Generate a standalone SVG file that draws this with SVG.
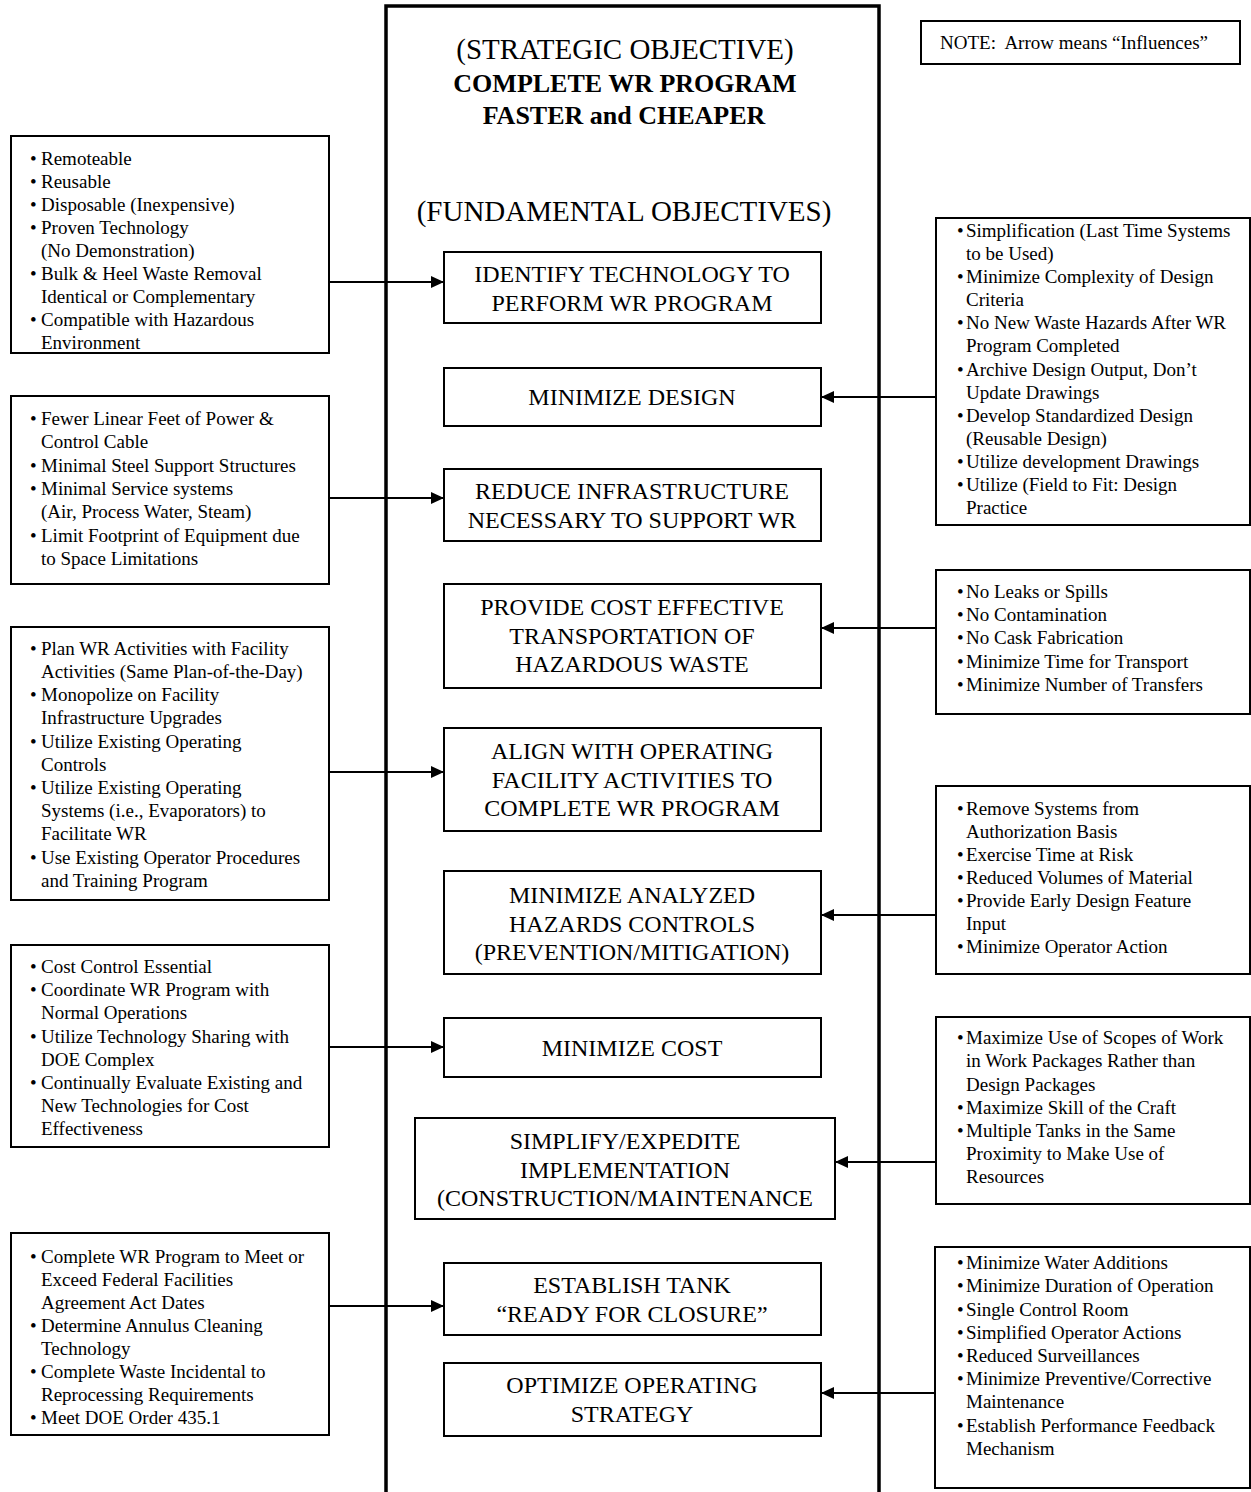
<svg xmlns="http://www.w3.org/2000/svg" width="1251" height="1492" viewBox="0 0 1251 1492">
<style>
.bx{fill:#fff;stroke:#000;stroke-width:2}
.big{fill:none;stroke:#000;stroke-width:3.5}
.t{font-family:"Liberation Serif","Times New Roman",serif;fill:#000}
.s{font-size:19px}
.c{font-size:24px;text-anchor:middle}
.h{font-size:29px;text-anchor:middle}
.hb{font-size:26px;font-weight:bold;text-anchor:middle}
.cn{stroke:#000;stroke-width:2;fill:none;marker-end:url(#ah)}
</style>
<defs>
<marker id="ah" markerUnits="userSpaceOnUse" markerWidth="14" markerHeight="12" refX="13" refY="6" orient="auto">
<path d="M0,0 L13,6 L0,12 Z" fill="#000"/>
</marker>
</defs>
<rect class="big" x="386" y="6" width="493" height="1500"/>
<g id="title">
<text class="t h" x="625" y="59">(STRATEGIC OBJECTIVE)</text>
<text class="t hb" x="625" y="92">COMPLETE WR PROGRAM</text>
<text class="t hb" x="624" y="124">FASTER and CHEAPER</text>
<text class="t h" x="624" y="221">(FUNDAMENTAL OBJECTIVES)</text>
</g>
<g id="note">
<rect class="bx" x="921" y="21" width="319" height="43"/>
<text class="t s" x="940" y="49">NOTE:&#160; Arrow means “Influences”</text>
</g>
<g id="connectors">
<line class="cn" x1="329" y1="282" x2="444" y2="282"/>
<line class="cn" x1="329" y1="498" x2="444" y2="498"/>
<line class="cn" x1="329" y1="772" x2="444" y2="772"/>
<line class="cn" x1="329" y1="1047" x2="444" y2="1047"/>
<line class="cn" x1="329" y1="1306" x2="444" y2="1306"/>
<line class="cn" x1="936" y1="397" x2="821" y2="397"/>
<line class="cn" x1="936" y1="628" x2="821" y2="628"/>
<line class="cn" x1="936" y1="915" x2="821" y2="915"/>
<line class="cn" x1="936" y1="1162" x2="835" y2="1162"/>
<line class="cn" x1="936" y1="1393" x2="821" y2="1393"/>
</g>
<g id="obj1">
<rect class="bx" x="444" y="252" width="377" height="71"/>
<text class="t c" x="632" y="282">IDENTIFY TECHNOLOGY TO</text>
<text class="t c" x="632" y="311">PERFORM WR PROGRAM</text>
</g>
<g id="obj2">
<rect class="bx" x="444" y="368" width="377" height="58"/>
<text class="t c" x="632" y="405">MINIMIZE DESIGN</text>
</g>
<g id="obj3">
<rect class="bx" x="444" y="469" width="377" height="72"/>
<text class="t c" x="632" y="499">REDUCE INFRASTRUCTURE</text>
<text class="t c" x="632" y="528">NECESSARY TO SUPPORT WR</text>
</g>
<g id="obj4">
<rect class="bx" x="444" y="584" width="377" height="104"/>
<text class="t c" x="632" y="615">PROVIDE COST EFFECTIVE</text>
<text class="t c" x="632" y="644">TRANSPORTATION OF</text>
<text class="t c" x="632" y="672">HAZARDOUS WASTE</text>
</g>
<g id="obj5">
<rect class="bx" x="444" y="728" width="377" height="103"/>
<text class="t c" x="632" y="759">ALIGN WITH OPERATING</text>
<text class="t c" x="632" y="788">FACILITY ACTIVITIES TO</text>
<text class="t c" x="632" y="816">COMPLETE WR PROGRAM</text>
</g>
<g id="obj6">
<rect class="bx" x="444" y="871" width="377" height="103"/>
<text class="t c" x="632" y="903">MINIMIZE ANALYZED</text>
<text class="t c" x="632" y="932">HAZARDS CONTROLS</text>
<text class="t c" x="632" y="960">(PREVENTION/MITIGATION)</text>
</g>
<g id="obj7">
<rect class="bx" x="444" y="1018" width="377" height="59"/>
<text class="t c" x="632" y="1056">MINIMIZE COST</text>
</g>
<g id="obj8">
<rect class="bx" x="415" y="1118" width="420" height="101"/>
<text class="t c" x="625" y="1149">SIMPLIFY/EXPEDITE</text>
<text class="t c" x="625" y="1178">IMPLEMENTATION</text>
<text class="t c" x="625" y="1206">(CONSTRUCTION/MAINTENANCE</text>
</g>
<g id="obj9">
<rect class="bx" x="444" y="1263" width="377" height="72"/>
<text class="t c" x="632" y="1293">ESTABLISH TANK</text>
<text class="t c" x="632" y="1322">“READY FOR CLOSURE”</text>
</g>
<g id="obj10">
<rect class="bx" x="444" y="1363" width="377" height="73"/>
<text class="t c" x="632" y="1393">OPTIMIZE OPERATING</text>
<text class="t c" x="632" y="1422">STRATEGY</text>
</g>
<g id="left1">
<rect class="bx" x="11" y="136" width="318" height="217"/>
<text class="t s">
<tspan x="30" y="165">•</tspan><tspan x="41" y="165">Remoteable</tspan>
<tspan x="30" y="188">•</tspan><tspan x="41" y="188">Reusable</tspan>
<tspan x="30" y="211">•</tspan><tspan x="41" y="211">Disposable (Inexpensive)</tspan>
<tspan x="30" y="234">•</tspan><tspan x="41" y="234">Proven Technology</tspan>
<tspan x="41" y="257">(No Demonstration)</tspan>
<tspan x="30" y="280">•</tspan><tspan x="41" y="280">Bulk &amp; Heel Waste Removal</tspan>
<tspan x="41" y="303">Identical or Complementary</tspan>
<tspan x="30" y="326">•</tspan><tspan x="41" y="326">Compatible with Hazardous</tspan>
<tspan x="41" y="349">Environment</tspan>
</text>
</g>
<g id="left2">
<rect class="bx" x="11" y="396" width="318" height="188"/>
<text class="t s">
<tspan x="30" y="425">•</tspan><tspan x="41" y="425">Fewer Linear Feet of Power &amp;</tspan>
<tspan x="41" y="448">Control Cable</tspan>
<tspan x="30" y="472">•</tspan><tspan x="41" y="472">Minimal Steel Support Structures</tspan>
<tspan x="30" y="495">•</tspan><tspan x="41" y="495">Minimal Service systems</tspan>
<tspan x="41" y="518">(Air, Process Water, Steam)</tspan>
<tspan x="30" y="542">•</tspan><tspan x="41" y="542">Limit Footprint of Equipment due</tspan>
<tspan x="41" y="565">to Space Limitations</tspan>
</text>
</g>
<g id="left3">
<rect class="bx" x="11" y="627" width="318" height="273"/>
<text class="t s">
<tspan x="30" y="655">•</tspan><tspan x="41" y="655">Plan WR Activities with Facility</tspan>
<tspan x="41" y="678">Activities (Same Plan-of-the-Day)</tspan>
<tspan x="30" y="701">•</tspan><tspan x="41" y="701">Monopolize on Facility</tspan>
<tspan x="41" y="724">Infrastructure Upgrades</tspan>
<tspan x="30" y="748">•</tspan><tspan x="41" y="748">Utilize Existing Operating</tspan>
<tspan x="41" y="771">Controls</tspan>
<tspan x="30" y="794">•</tspan><tspan x="41" y="794">Utilize Existing Operating</tspan>
<tspan x="41" y="817">Systems (i.e., Evaporators) to</tspan>
<tspan x="41" y="840">Facilitate WR</tspan>
<tspan x="30" y="864">•</tspan><tspan x="41" y="864">Use Existing Operator Procedures</tspan>
<tspan x="41" y="887">and Training Program</tspan>
</text>
</g>
<g id="left4">
<rect class="bx" x="11" y="945" width="318" height="202"/>
<text class="t s">
<tspan x="30" y="973">•</tspan><tspan x="41" y="973">Cost Control Essential</tspan>
<tspan x="30" y="996">•</tspan><tspan x="41" y="996">Coordinate WR Program with</tspan>
<tspan x="41" y="1019">Normal Operations</tspan>
<tspan x="30" y="1043">•</tspan><tspan x="41" y="1043">Utilize Technology Sharing with</tspan>
<tspan x="41" y="1066">DOE Complex</tspan>
<tspan x="30" y="1089">•</tspan><tspan x="41" y="1089">Continually Evaluate Existing and</tspan>
<tspan x="41" y="1112">New Technologies for Cost</tspan>
<tspan x="41" y="1135">Effectiveness</tspan>
</text>
</g>
<g id="left5">
<rect class="bx" x="11" y="1233" width="318" height="202"/>
<text class="t s">
<tspan x="30" y="1263">•</tspan><tspan x="41" y="1263">Complete WR Program to Meet or</tspan>
<tspan x="41" y="1286">Exceed Federal Facilities</tspan>
<tspan x="41" y="1309">Agreement Act Dates</tspan>
<tspan x="30" y="1332">•</tspan><tspan x="41" y="1332">Determine Annulus Cleaning</tspan>
<tspan x="41" y="1355">Technology</tspan>
<tspan x="30" y="1378">•</tspan><tspan x="41" y="1378">Complete Waste Incidental to</tspan>
<tspan x="41" y="1401">Reprocessing Requirements</tspan>
<tspan x="30" y="1424">•</tspan><tspan x="41" y="1424">Meet DOE Order 435.1</tspan>
</text>
</g>
<g id="right1">
<rect class="bx" x="936" y="218" width="314" height="307"/>
<text class="t s">
<tspan x="957" y="237">•</tspan><tspan x="966" y="237">Simplification (Last Time Systems</tspan>
<tspan x="966" y="260">to be Used)</tspan>
<tspan x="957" y="283">•</tspan><tspan x="966" y="283">Minimize Complexity of Design</tspan>
<tspan x="966" y="306">Criteria</tspan>
<tspan x="957" y="329">•</tspan><tspan x="966" y="329">No New Waste Hazards After WR</tspan>
<tspan x="966" y="352">Program Completed</tspan>
<tspan x="957" y="376">•</tspan><tspan x="966" y="376">Archive Design Output, Don’t</tspan>
<tspan x="966" y="399">Update Drawings</tspan>
<tspan x="957" y="422">•</tspan><tspan x="966" y="422">Develop Standardized Design</tspan>
<tspan x="966" y="445">(Reusable Design)</tspan>
<tspan x="957" y="468">•</tspan><tspan x="966" y="468">Utilize development Drawings</tspan>
<tspan x="957" y="491">•</tspan><tspan x="966" y="491">Utilize (Field to Fit: Design</tspan>
<tspan x="966" y="514">Practice</tspan>
</text>
</g>
<g id="right2">
<rect class="bx" x="936" y="570" width="314" height="144"/>
<text class="t s">
<tspan x="957" y="598">•</tspan><tspan x="966" y="598">No Leaks or Spills</tspan>
<tspan x="957" y="621">•</tspan><tspan x="966" y="621">No Contamination</tspan>
<tspan x="957" y="644">•</tspan><tspan x="966" y="644">No Cask Fabrication</tspan>
<tspan x="957" y="668">•</tspan><tspan x="966" y="668">Minimize Time for Transport</tspan>
<tspan x="957" y="691">•</tspan><tspan x="966" y="691">Minimize Number of Transfers</tspan>
</text>
</g>
<g id="right3">
<rect class="bx" x="936" y="786" width="314" height="188"/>
<text class="t s">
<tspan x="957" y="815">•</tspan><tspan x="966" y="815">Remove Systems from</tspan>
<tspan x="966" y="838">Authorization Basis</tspan>
<tspan x="957" y="861">•</tspan><tspan x="966" y="861">Exercise Time at Risk</tspan>
<tspan x="957" y="884">•</tspan><tspan x="966" y="884">Reduced Volumes of Material</tspan>
<tspan x="957" y="907">•</tspan><tspan x="966" y="907">Provide Early Design Feature</tspan>
<tspan x="966" y="930">Input</tspan>
<tspan x="957" y="953">•</tspan><tspan x="966" y="953">Minimize Operator Action</tspan>
</text>
</g>
<g id="right4">
<rect class="bx" x="936" y="1017" width="314" height="187"/>
<text class="t s">
<tspan x="957" y="1044">•</tspan><tspan x="966" y="1044">Maximize Use of Scopes of Work</tspan>
<tspan x="966" y="1067">in Work Packages Rather than</tspan>
<tspan x="966" y="1091">Design Packages</tspan>
<tspan x="957" y="1114">•</tspan><tspan x="966" y="1114">Maximize Skill of the Craft</tspan>
<tspan x="957" y="1137">•</tspan><tspan x="966" y="1137">Multiple Tanks in the Same</tspan>
<tspan x="966" y="1160">Proximity to Make Use of</tspan>
<tspan x="966" y="1183">Resources</tspan>
</text>
</g>
<g id="right5">
<rect class="bx" x="935" y="1247" width="315" height="241"/>
<text class="t s">
<tspan x="957" y="1269">•</tspan><tspan x="966" y="1269">Minimize Water Additions</tspan>
<tspan x="957" y="1292">•</tspan><tspan x="966" y="1292">Minimize Duration of Operation</tspan>
<tspan x="957" y="1316">•</tspan><tspan x="966" y="1316">Single Control Room</tspan>
<tspan x="957" y="1339">•</tspan><tspan x="966" y="1339">Simplified Operator Actions</tspan>
<tspan x="957" y="1362">•</tspan><tspan x="966" y="1362">Reduced Surveillances</tspan>
<tspan x="957" y="1385">•</tspan><tspan x="966" y="1385">Minimize Preventive/Corrective</tspan>
<tspan x="966" y="1408">Maintenance</tspan>
<tspan x="957" y="1432">•</tspan><tspan x="966" y="1432">Establish Performance Feedback</tspan>
<tspan x="966" y="1455">Mechanism</tspan>
</text>
</g>
</svg>
